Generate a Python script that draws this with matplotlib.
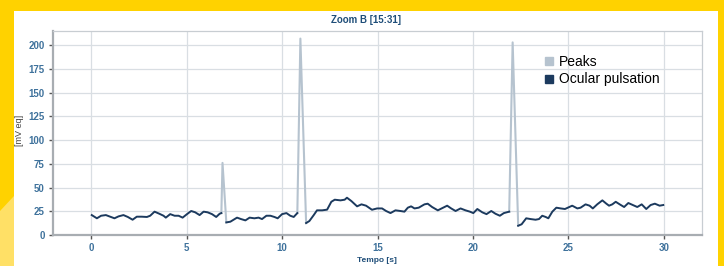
import numpy as np
import matplotlib
matplotlib.use("Agg")
import matplotlib.pyplot as plt
from matplotlib.lines import Line2D
from matplotlib.patches import Rectangle, Polygon

plt.rcParams['font.family'] = ['Liberation Sans', 'DejaVu Sans']

# Ocular pulsation (time s, mV eq); NaN breaks where peaks occur
ocular_t = [0.03, 0.3, 0.52, 0.77, 1.0, 1.22, 1.43, 1.69, 1.92, 2.17, 2.39, 2.65, 2.92, 3.09,
            3.32, 3.57, 3.79, 3.91, 4.14, 4.37, 4.58, 4.79, 5.02, 5.24, 5.45, 5.68, 5.89, 6.1,
            6.33, 6.55, 6.73, 6.82, np.nan,
            7.08, 7.29, 7.46, 7.64, 7.85, 8.08, 8.3, 8.55, 8.77, 8.95, 9.18, 9.39, 9.6, 9.77,
            10.0, 10.23, 10.43, 10.61, 10.8, np.nan,
            11.26, 11.43, 11.66, 11.83, 12.1, 12.36, 12.58, 12.76, 13.06, 13.28, 13.4, 13.63,
            13.93, 14.16, 14.4, 14.71, 14.98, 15.24, 15.45, 15.68, 15.94, 16.2, 16.41, 16.59,
            16.76, 16.94, 17.16, 17.46, 17.63, 17.86, 18.16, 18.44, 18.65, 18.86, 19.09, 19.35,
            19.61, 19.84, 20.02, 20.23, 20.49, 20.71, 20.96, 21.18, 21.41, 21.62, 21.9, np.nan,
            22.37, 22.55, 22.79, 23.02, 23.28, 23.46, 23.63, 23.81, 23.95, 24.16, 24.37, 24.6,
            24.82, 25.04, 25.2, 25.47, 25.64, 25.9, 26.11, 26.28, 26.51, 26.78, 26.99, 27.13,
            27.3, 27.48, 27.69, 27.92, 28.14, 28.38, 28.61, 28.84, 29.08, 29.31, 29.53, 29.78,
            29.97]
ocular_v = [21, 17.6, 20.3, 21, 19.3, 17.6, 19.6, 21, 19, 16.1, 19.3, 19.3, 19, 20.3,
            24.6, 22.4, 20.3, 18.3, 22, 20.3, 20.3, 18.3, 22, 25.3, 23.9, 21, 24.6, 23.9,
            22, 19, 22.4, 23.1, np.nan,
            13.3, 14, 16.1, 18.3, 16.8, 15.4, 18.3, 17.6, 18.3, 16.8, 20.3, 20.3, 19, 17.6,
            22, 23.1, 20.3, 19, 23.1, np.nan,
            12.6, 14.7, 21, 26, 26, 26.7, 35, 37.2, 36.5, 37.2, 39.3, 35.8,
            30.2, 32.3, 30.9, 26.6, 28, 28, 25.3, 23.1, 26, 25.3, 24.6, 28.8,
            30.2, 28, 28.8, 32.3, 33, 29.5, 26, 28.8, 30.9, 28, 25.3, 28,
            26, 24.6, 23.1, 27.4, 23.9, 22, 25.3, 22.4, 20.3, 23.1, 24.6, np.nan,
            9.8, 11.3, 17.6, 16.8, 16.1, 16.8, 20.3, 19, 17.6, 24.6, 28.8, 28,
            27.4, 29.5, 30.9, 28, 28.8, 32.3, 30.9, 28, 32.3, 36.5, 33, 30.9,
            32.3, 35, 32.3, 29.5, 33.7, 31.6, 29.5, 32.3, 27.4, 31.6, 33, 30.9,
            31.6]

# Peaks (time s, mV eq)
peaks_t = [6.82, 6.88, 7.08, np.nan, 10.8, 10.96, 11.26, np.nan, 21.9, 22.08, 22.37]
peaks_v = [23.1, 76, 13.3, np.nan, 23.1, 207, 12.6, np.nan, 24.6, 203, 9.8]

x_ticks = [0, 5, 10, 15, 20, 25, 30]
y_ticks = [0, 25, 50, 75, 100, 125, 150, 175, 200]

W, H = 724, 266
fig = plt.figure(figsize=(W / 100, H / 100), dpi=100)
fig.patch.set_facecolor('#FFD200')

# decorative frame
fig.patches.append(Polygon([[0, 0], [14 / W, 0], [14 / W, 70 / H], [0, 55 / H]],
                           closed=True, transform=fig.transFigure,
                           facecolor='#FFE066', edgecolor='none', zorder=-3))
fig.patches.append(Rectangle((14 / W, 0), (718 - 14) / W, (266 - 11) / H,
                             transform=fig.transFigure, facecolor='white',
                             edgecolor='none', zorder=-2))

L, R, T, B = 53, 702, 31, 235
ax = fig.add_axes([L / W, (H - B) / H, (R - L) / W, (B - T) / H])
ax.set_zorder(2)
ax.set_facecolor('white')

ax.plot(peaks_t, peaks_v, color='#b6c3cf', lw=1.5, zorder=3, solid_joinstyle='round')
ax.plot(ocular_t, ocular_v, color='#1c3a5e', lw=1.4, zorder=4, solid_joinstyle='round')

ax.set_xlim(-2, 32)
ax.set_ylim(0, 215)
ax.set_xticks(x_ticks)
ax.set_yticks(y_ticks)
ax.grid(True, color='#d9dee3', lw=0.9)
ax.set_axisbelow(True)

tick_color = '#3f729c'
ax.tick_params(axis='both', colors='#555555', labelcolor=tick_color, labelsize=7,
               length=3, width=1, direction='out', pad=3)
for lab in ax.get_xticklabels() + ax.get_yticklabels():
    lab.set_fontweight('bold')

for side in ['left', 'bottom']:
    ax.spines[side].set_color('#a8adb2')
    ax.spines[side].set_linewidth(1.6)
for side in ['top', 'right']:
    ax.spines[side].set_color('#c8cdd2')
    ax.spines[side].set_linewidth(0.9)

fig.text(366 / W, (H - 20) / H, 'Zoom B [15:31]', ha='center', va='center',
         fontsize=7, fontweight='bold', color='#1f4e79', zorder=5)
fig.text(19 / W, (H - 130) / H, '[mV eq]', rotation=90, ha='center', va='center',
         fontsize=6.5, color='#444444', zorder=5)
fig.text(377 / W, (H - 261) / H, 'Tempo [s]', ha='center', va='center',
         fontsize=6, fontweight='bold', color='#1f4e79', zorder=5)

handles = [Line2D([], [], marker='s', ls='none', color='#b6c3cf', markersize=6),
           Line2D([], [], marker='s', ls='none', color='#1c3a5e', markersize=6)]
ax.legend(handles, ['Peaks', 'Ocular pulsation'], loc='upper left',
          bbox_to_anchor=((542 - L) / (R - L), (B - 55) / (B - T)),
          frameon=False, fontsize=10, handletextpad=0.2, handlelength=1.0,
          labelspacing=0.25, borderaxespad=0, borderpad=0)

fig.savefig('out.png', dpi=100, facecolor=fig.get_facecolor())
